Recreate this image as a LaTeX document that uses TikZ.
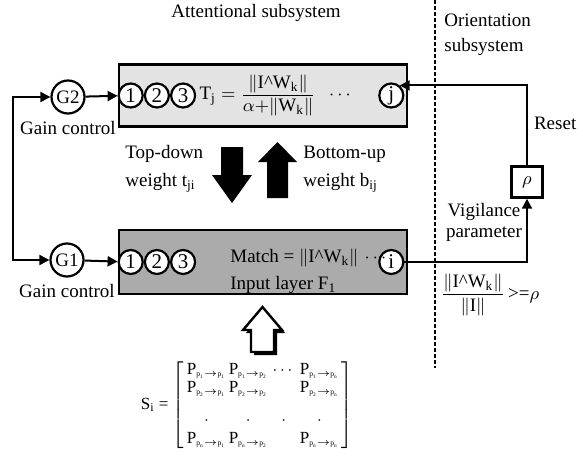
\documentclass[tikz,border=0pt]{standalone}
\usepackage{fontspec}
\setmainfont{Liberation Serif}
\usepackage{amsmath}
\usepackage{xcolor}
\usepackage{tikz}
\usetikzlibrary{arrows.meta, positioning}
\definecolor{attfill}{gray}{0.89}
\definecolor{inpfill}{gray}{0.67}
\newcommand{\iwnorm}{\|\mathrm{I}\text{\^{}}\mathrm{W}_{\mathrm{k}}\|}
\newcommand{\pij}[2]{\mathrm{P}_{\text{\fontsize{3.8}{4}\selectfont p\textsubscript{#1}$\to$p\textsubscript{#2}}}}
\tikzset{
  layer/.style={rectangle,draw=black,line width=1.4pt,minimum width=144pt,minimum height=31pt},
  unit/.style={circle,draw=black,fill=white,line width=1.1pt,inner sep=0pt,minimum size=12pt,font=\fontsize{10.5}{12}\selectfont},
  gain/.style={circle,draw=black,fill=white,line width=1.1pt,inner sep=0pt,minimum size=16.5pt},
  txt/.style={align=left,inner sep=0pt},
  ar/.style={-{Triangle[length=5pt,width=5pt]},line width=1pt},
  arboth/.style={{Triangle[length=5pt,width=5pt]}-{Triangle[length=5pt,width=5pt]},line width=1pt}
}
\begin{document}
\begin{tikzpicture}[x=0.5pt,y=-0.5pt,font=\fontsize{9.5}{12}\selectfont]
\useasboundingbox (0,0) rectangle (583,455);
\node (title) at (256,13) {Attentional subsystem};
\node[txt,anchor=west,font=\fontsize{9.5}{12.5}\selectfont] (orient) at (444,35) {Orientation\\subsystem};
\draw[line width=1pt,dash pattern=on 2pt off 1pt] (435,0) -- (435,368);
\node[layer,fill=attfill] (att) at (263,95.5) {};
\node[layer,fill=inpfill,minimum height=32pt] (inp) at (263,262) {};
\node[unit,right=0pt of att.west] (t1) {1};
\node[unit,right=0pt of t1] (t2) {2};
\node[unit,right=0pt of t2] (t3) {3};
\node[unit,left=2pt of att.east] (j) {j};
\node[right=0.5pt of t3,inner sep=1pt] (tj) {$\mathrm{T}_{\mathrm{j}}=\dfrac{\iwnorm}{\alpha{+}\|\mathrm{W}_{\mathrm{k}}\|}$};
\node[right=2pt of tj] (tdots) {$\cdots$};
\node[unit,right=0pt of inp.west] (b1) {1};
\node[unit,right=0pt of b1] (b2) {2};
\node[unit,right=0pt of b2] (b3) {3};
\node[unit,left=2pt of inp.east] (i) {i};
\node[txt,anchor=west] (match) at (230,258) {Match = $\iwnorm\,\cdots$};
\node[txt,anchor=west] (flayer) at (230,285) {Input layer F\textsubscript{1}};
\node[gain] (g2) at (68,97) {G2};
\node[below=0pt of g2] (gc2) {Gain control};
\node[gain] (g1) at (67,260) {G1};
\node[below=0pt of g1] (gc1) {Gain control};
\coordinate (lft) at (13,180);
\draw[ar] (g2) -- (t1);
\draw[ar] (g1) -- (b1);
\draw[arboth] (g2.west) -- (g2.west -| lft) -- (g1.west -| lft) -- (g1.west);
\fill (221,147) -- (243,147) -- (243,175) -- (252,175) -- (232,203) -- (212,175) -- (221,175) -- cycle;
\fill (267,198) -- (288,198) -- (288,162) -- (297,162) -- (277.5,142) -- (258,162) -- (267,162) -- cycle;
\node[txt,anchor=west,font=\fontsize{9.5}{14}\selectfont] (tdl) at (125,169) {Top-down\\weight t\textsubscript{ji}};
\node[txt,anchor=west,font=\fontsize{9.5}{14}\selectfont] (bul) at (303,169) {Bottom-up\\weight b\textsubscript{ij}};
\node[draw,line width=1.2pt,minimum size=15.5pt,inner sep=0pt] (rho) at (527,182) {$\rho$};
\draw[ar] (rho) |- (j.50);
\draw[ar] (i) -| (rho);
\node[anchor=west] (reset) at (527,123) {Reset};
\node[txt,align=center,font=\fontsize{9.5}{10.5}\selectfont] (vig) at (484,222) {Vigilance\\parameter};
\node (ratio) at (490,295) {$\dfrac{\iwnorm}{\|\mathrm{I}\|}$\,>=$\rho$};
\fill[shift={(3,3)}] (251,352) -- (274,352) -- (274,330) -- (282,330) -- (262.5,307) -- (243,330) -- (251,330) -- cycle;
\draw[line width=1.2pt,fill=white] (251,352) -- (274,352) -- (274,330) -- (282,330) -- (262.5,307) -- (243,330) -- (251,330) -- cycle;
\node[font=\fontsize{8.5}{10}\selectfont] (smat) at (247,405) {S\textsubscript{i} = $\renewcommand{\arraystretch}{0.92}\left[\begin{array}{@{\,}c@{\,}c@{\;}c@{\;}c@{\,}}
\pij{1}{1} & \pij{1}{2} & \cdots & \pij{1}{n}\\
\pij{2}{1} & \pij{2}{2} & & \pij{2}{n}\\[7pt]
\cdot & \cdot & \cdot & \cdot\\[0pt]
\pij{n}{1} & \pij{n}{2} & & \pij{n}{n}
\end{array}\right]$};
\end{tikzpicture}
\end{document}
